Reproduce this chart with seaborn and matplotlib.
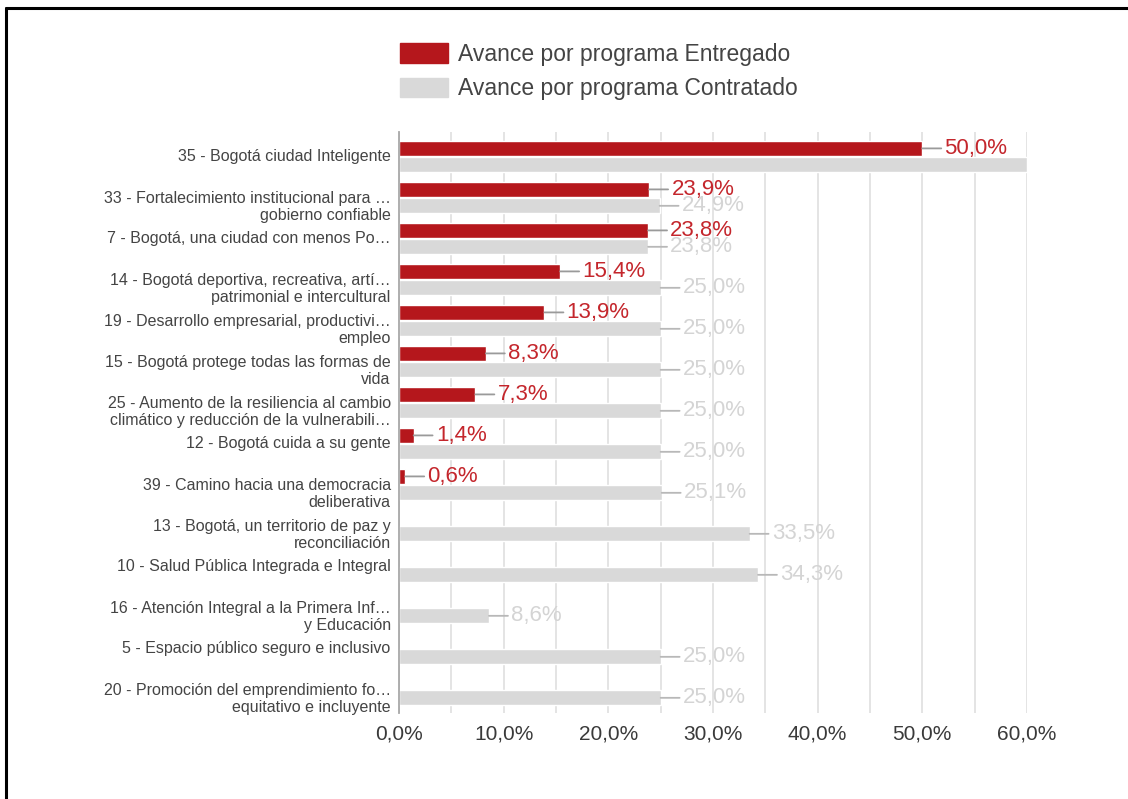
import numpy as np
import pandas as pd
import matplotlib
matplotlib.use("Agg")
import matplotlib.pyplot as plt
from matplotlib.patches import Patch
from matplotlib.lines import Line2D
from matplotlib.ticker import MultipleLocator, FuncFormatter
import seaborn as sns

programas = [
    "35 - Bogotá ciudad Inteligente",
    "33 - Fortalecimiento institucional para …\ngobierno confiable",
    "7 - Bogotá, una ciudad con menos Po…",
    "14 - Bogotá deportiva, recreativa, artí…\npatrimonial e intercultural",
    "19 - Desarrollo empresarial, productivi…\nempleo",
    "15 - Bogotá protege todas las formas de\nvida",
    "25 - Aumento de la resiliencia al cambio\nclimático y reducción de la vulnerabili…",
    "12 - Bogotá cuida a su gente",
    "39 - Camino hacia una democracia\ndeliberativa",
    "13 - Bogotá, un territorio de paz y\nreconciliación",
    "10 - Salud Pública Integrada e Integral",
    "16 - Atención Integral a la Primera Inf…\ny Educación",
    "5 - Espacio público seguro e inclusivo",
    "20 - Promoción del emprendimiento fo…\nequitativo e incluyente",
]
entregado = [50.0, 23.9, 23.8, 15.4, 13.9, 8.3, 7.3, 1.4, 0.6,
             np.nan, np.nan, np.nan, np.nan, np.nan]
contratado = [60.0, 24.9, 23.8, 25.0, 25.0, 25.0, 25.0, 25.0, 25.1,
              33.5, 34.3, 8.6, 25.0, 25.0]
series = ["Avance por programa Entregado", "Avance por programa Contratado"]

colors = ["#b5171c", "#d9d9d9"]
label_colors = ["#c4262c", "#d4d4d4"]
line_colors = ["#9a9a9a", "#b8b8b8"]

df = pd.DataFrame({
    "programa": programas * 2,
    "valor": entregado + contratado,
    "serie": [series[0]] * len(programas) + [series[1]] * len(programas),
})

sns.set_style("white")
plt.rcParams["font.family"] = ["Liberation Sans", "DejaVu Sans"]

fig = plt.figure(figsize=(11.28, 7.99), dpi=100)
ax = fig.add_axes([399 / 1128, 1 - 713 / 799, 628 / 1128, 581 / 799])

sns.barplot(data=df, y="programa", x="valor", hue="serie", orient="h",
            palette=colors, saturation=1, width=0.8, gap=0.07, errorbar=None,
            order=programas, hue_order=series, ax=ax, legend=False)

ax.set_xlim(0, 60)
ax.set_ylim(13.57, -0.6)
ax.set_xlabel("")
ax.set_ylabel("")
ax.xaxis.set_major_locator(MultipleLocator(10))
ax.xaxis.set_minor_locator(MultipleLocator(5))
ax.xaxis.set_major_formatter(FuncFormatter(lambda v, p: f"{v:.1f}%".replace(".", ",")))
ax.grid(axis="x", which="both", color="#e2e2e2", lw=1.3)
ax.set_axisbelow(True)
ax.tick_params(axis="x", length=0, pad=8, labelsize=15, labelcolor="#3a3a3a")
ax.tick_params(axis="y", length=0, labelleft=False)
for s in ["top", "right", "bottom"]:
    ax.spines[s].set_visible(False)
ax.spines["left"].set_color("#a8a8a8")
ax.spines["left"].set_linewidth(1.3)

# category labels, two-line ones start on the category line
for i, lab in enumerate(programas):
    dy = -7 if "\n" in lab else 0
    ax.annotate(lab, xy=(0, i), xycoords=("axes fraction", "data"),
                xytext=(-6, dy), textcoords="offset points",
                ha="right", va="center", multialignment="right",
                fontsize=11.5, color="#444444", linespacing=1.15)

# value labels with leader lines
for k, cont in enumerate(ax.containers):
    for p in cont.patches:
        w = p.get_width()
        if np.isnan(w) or w >= 60:
            continue
        yc = p.get_y() + p.get_height() / 2
        ax.annotate(f"{w:.1f}%".replace(".", ","), xy=(w, yc),
                    xytext=(16, 0), textcoords="offset points",
                    ha="left", va="center", fontsize=16, color=label_colors[k],
                    arrowprops=dict(arrowstyle="-", color=line_colors[k], lw=1.3,
                                    shrinkA=0, shrinkB=0))

handles = [Patch(facecolor=c, edgecolor=c) for c in colors]
leg = fig.legend(handles, series, loc="upper left",
                 bbox_to_anchor=(400 / 1128, 1 - 43 / 799), frameon=False,
                 fontsize=16.5, handlelength=2.1, handleheight=0.95,
                 handletextpad=0.45, labelspacing=0.5, borderpad=0,
                 borderaxespad=0)
for t in leg.get_texts():
    t.set_color("#444444")

# frame lines of the screenshot
fig.add_artist(Line2D([6 / 1128, 1], [1 - 8 / 799, 1 - 8 / 799], color="black", lw=2.2))
fig.add_artist(Line2D([6 / 1128, 6 / 1128], [0, 1 - 8 / 799], color="black", lw=2.2))

fig.savefig("out.png", dpi=100)
